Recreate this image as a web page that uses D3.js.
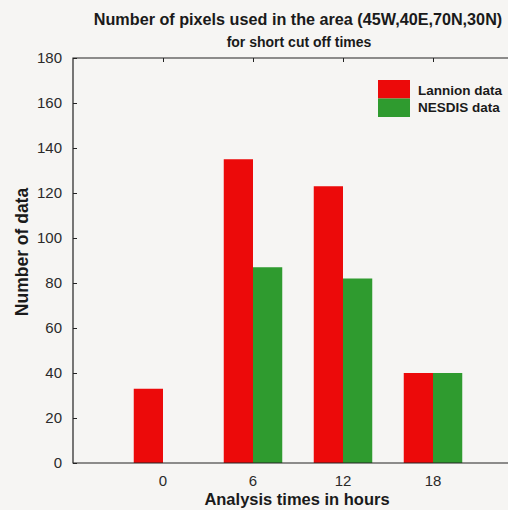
<!DOCTYPE html>
<html>
<head>
<meta charset="utf-8">
<script src="https://cdn.jsdelivr.net/npm/d3@7"></script>
<style>
  html, body { margin: 0; padding: 0; overflow: hidden; background: #f6f5f3; }
  text { font-family: "Liberation Sans", Arial, sans-serif; fill: #1a1a1a; }
</style>
</head>
<body>
<div id="chart"></div>
<script>
// data
const hours = [0, 6, 12, 18];
const lannion = [33, 135, 123, 40];
const nesdis = [0, 87, 82, 40];
const yTicks = [0, 20, 40, 60, 80, 100, 120, 140, 160, 180];
const seriesNames = ['Lannion data', 'NESDIS data'];
const seriesColors = ['#ec0a0a', '#2f9b2f'];

const W = 508, H = 510;
const margin = {top: 58, left: 73, bottom: 47};

const svg = d3.select('#chart')
    .append('svg')
    .attr('width', W)
    .attr('height', H);

// x is linear in hours, frame runs past the right edge like the scan
const x = d3.scaleLinear()
    .domain([-6, 24])
    .range([margin.left, margin.left + 450]);

const y = d3.scaleLinear()
    .domain([0, 180])
    .range([H - margin.bottom, margin.top]);

const barW = 1.95; // in hours

// Bars (Lannion, left of the tick)
svg.append('g')
    .selectAll('rect')
    .data(lannion)
    .enter()
    .append('rect')
    .attr('x', (d, i) => x(hours[i] - barW))
    .attr('width', (d, i) => x(hours[i]) - x(hours[i] - barW))
    .attr('y', d => y(d))
    .attr('height', d => y(0) - y(d))
    .attr('fill', seriesColors[0]);

// Bars (NESDIS, right of the tick)
svg.append('g')
    .selectAll('rect')
    .data(nesdis)
    .enter()
    .append('rect')
    .attr('x', (d, i) => x(hours[i]))
    .attr('width', (d, i) => x(hours[i] + barW) - x(hours[i]))
    .attr('y', d => y(d))
    .attr('height', d => y(0) - y(d))
    .attr('fill', seriesColors[1]);

// Left axis, ticks inside
const yAxis = svg.append('g')
    .attr('transform', `translate(${margin.left},0)`)
    .call(d3.axisRight(y).tickValues(yTicks).tickSize(4).tickFormat(''));
yAxis.select('.domain').remove();

svg.append('g')
    .selectAll('text')
    .data(yTicks)
    .enter()
    .append('text')
    .attr('x', 62)
    .attr('y', d => y(d) + 5)
    .attr('text-anchor', 'end')
    .style('font-size', '15px')
    .style('fill', '#2a2a2a')
    .text(d => d);

// Top ticks
const xTop = svg.append('g')
    .attr('transform', `translate(0,${margin.top})`)
    .call(d3.axisBottom(x).tickValues(hours).tickSize(4).tickFormat(''));
xTop.select('.domain').remove();

// Frame
svg.append('path')
    .attr('d', `M${x(24)},${y(180)}H${x(-6)}V${y(0)}H${x(24)}`)
    .attr('fill', 'none')
    .attr('stroke', '#222')
    .attr('stroke-width', 1.2);

svg.selectAll('.tick line').attr('stroke', '#222');

// x tick labels
svg.append('g')
    .selectAll('text')
    .data(hours)
    .enter()
    .append('text')
    .attr('x', d => x(d))
    .attr('y', 486)
    .attr('text-anchor', 'middle')
    .style('font-size', '15px')
    .style('fill', '#2a2a2a')
    .text(d => d);

// Titles
svg.append('text')
    .attr('x', 298).attr('y', 25)
    .attr('text-anchor', 'middle')
    .style('font-size', '16.2px').style('font-weight', 'bold')
    .text('Number of pixels used in the area (45W,40E,70N,30N)');

svg.append('text')
    .attr('x', 299).attr('y', 47)
    .attr('text-anchor', 'middle')
    .style('font-size', '14px').style('font-weight', 'bold')
    .text('for short cut off times');

svg.append('text')
    .attr('x', 297).attr('y', 505)
    .attr('text-anchor', 'middle')
    .style('font-size', '16.5px').style('font-weight', 'bold')
    .text('Analysis times in hours');

svg.append('text')
    .attr('transform', `translate(28,252) rotate(-90)`)
    .attr('text-anchor', 'middle')
    .style('font-size', '17.5px').style('font-weight', 'bold')
    .text('Number of data');

// Legend
const legend = svg.append('g')
    .attr('transform', 'translate(378,80)');

legend.selectAll('rect')
    .data(seriesNames)
    .enter()
    .append('rect')
    .attr('x', 0)
    .attr('y', (d, i) => i * 18.5)
    .attr('width', 32)
    .attr('height', 18.5)
    .attr('fill', (d, i) => seriesColors[i]);

legend.selectAll('text')
    .data(seriesNames)
    .enter()
    .append('text')
    .attr('x', 40)
    .attr('y', (d, i) => 15 + i * 17)
    .style('font-size', '13.5px')
    .style('font-weight', '600')
    .text(d => d);
</script>
</body>
</html>
